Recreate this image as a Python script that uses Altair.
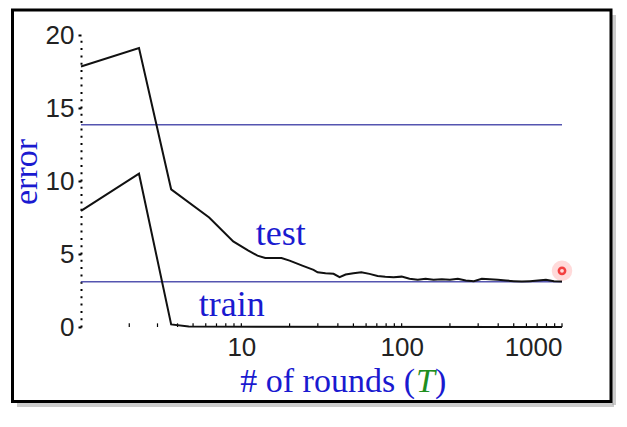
import altair as alt
import pandas as pd

# ---- data ----
test_x = [1, 2.3, 3.65, 6.3, 8.9, 11, 12.6, 14.1, 17.8, 20, 24, 28.2, 29.9, 33.5, 37.6,
          41, 44.7, 50, 56, 63, 70.8, 79, 89, 100, 112, 126, 141, 158, 178, 200, 224,
          251, 282, 316, 355, 398, 447, 501, 562, 631, 708, 794, 891, 1000]
test_y = [17.84, 19.1, 9.43, 7.5, 5.86, 5.25, 4.89, 4.73, 4.73, 4.55, 4.2, 3.91, 3.75, 3.68, 3.64,
          3.41, 3.59, 3.68, 3.75, 3.64, 3.5, 3.45, 3.41, 3.45, 3.3, 3.23, 3.3, 3.23, 3.27, 3.23, 3.3,
          3.18, 3.14, 3.3, 3.27, 3.23, 3.18, 3.14, 3.11, 3.14, 3.18, 3.23, 3.14, 3.11]
train_x = [1, 2.3, 3.65, 4.7, 1000]
train_y = [7.95, 10.5, 0.18, 0.03, 0]
hlines_y = [13.85, 3.1]
x_tick_labels = [10, 100, 1000]
y_tick_labels = [0, 5, 10, 15, 20]
minor_ticks = [2, 3, 4, 5, 6, 7, 8, 9, 10, 20, 30, 40, 50, 60, 70, 80, 90,
               100, 200, 300, 400, 500, 600, 700, 800, 900, 1000]
label_text = ["test", "train"]
label_x = [12.3, 5.43]
label_y = [5.6, 0.75]
marker_x = [1000]
marker_y = [3.85]

BLUE = "#1a1ad0"
W, H = 481, 292

lines_df = pd.DataFrame({
    "x": test_x + train_x,
    "y": test_y + train_y,
    "series": ["test"] * len(test_x) + ["train"] * len(train_x),
})
hl_df = pd.DataFrame({"y": hlines_y})
minor_df = pd.DataFrame({"x": minor_ticks})
lab_df = pd.DataFrame({"x": label_x, "y": label_y, "t": label_text})
mk_df = pd.DataFrame({"x": marker_x, "y": marker_y})
one = pd.DataFrame({"a": [0]})

xscale = alt.Scale(type="log", domain=[1, 1000], nice=False)
yscale = alt.Scale(domain=[0, 20], nice=False)
ax_x = alt.Axis(values=x_tick_labels, format="d", ticks=False, domain=False, grid=False,
                labelFont="Liberation Sans", labelFontSize=26, labelColor="#222222",
                labelPadding=7, title=None)
ax_y = alt.Axis(values=y_tick_labels, tickSize=3, tickWidth=2, tickColor="black",
                domainDash=[2, 5.3], domainWidth=2, domainColor="black", grid=False,
                labelFont="Liberation Sans", labelFontSize=26, labelColor="#222222",
                labelPadding=4, title=None)


def X():
    return alt.X("x:Q", scale=xscale, axis=ax_x)


def Y():
    return alt.Y("y:Q", scale=yscale, axis=ax_y)


shadow_r = alt.Chart(one).mark_rule(color="#aaaaaa", strokeWidth=4, opacity=0.6).encode(
    x=alt.value(W + 52), x2=alt.value(W + 52), y=alt.value(-20), y2=alt.value(H + 78))
shadow_b = alt.Chart(one).mark_rule(color="#aaaaaa", strokeWidth=4, opacity=0.6).encode(
    x=alt.value(-64), x2=alt.value(W + 52), y=alt.value(H + 78), y2=alt.value(H + 78))
frame = alt.Chart(one).mark_rect(fillOpacity=0, stroke="black", strokeWidth=3).encode(
    x=alt.value(-68.5), x2=alt.value(W + 49), y=alt.value(-25), y2=alt.value(H + 74.5))

hl = alt.Chart(hl_df).mark_rule(color="#5555b0", strokeWidth=1.5).encode(y=Y())

minor = alt.Chart(minor_df).mark_rule(color="black", strokeWidth=1.2).encode(
    x=X(), y=alt.datum(0), y2=alt.datum(0.25))

lines = alt.Chart(lines_df).mark_line(color="#111111", strokeWidth=2).encode(
    x=X(), y=Y(), detail="series:N")

labels = alt.Chart(lab_df).mark_text(font="Liberation Serif", fontSize=36, color=BLUE,
                                     align="left", baseline="alphabetic").encode(
    x=X(), y=Y(), text="t:N")

glow = alt.Chart(mk_df).mark_point(filled=True, color="#ff3030", opacity=0.18, size=420).encode(
    x=X(), y=Y())
ring = alt.Chart(mk_df).mark_point(filled=False, color="#ee0000", strokeWidth=2.5, size=40).encode(
    x=X(), y=Y())

ytitle = alt.Chart(one).mark_text(text="error", font="Liberation Serif", fontSize=34, color=BLUE,
                                  angle=270, align="center", baseline="alphabetic").encode(
    x=alt.value(-44), y=alt.value(137))
xt1 = alt.Chart(one).mark_text(text="# of rounds (", font="Liberation Serif", fontSize=34, color=BLUE,
                               align="right", baseline="alphabetic").encode(
    x=alt.value(334), y=alt.value(H + 65))
xt2 = alt.Chart(one).mark_text(text="T", font="Liberation Serif", fontSize=34, color="#1f8f1f",
                               fontStyle="italic", align="left", baseline="alphabetic").encode(
    x=alt.value(335), y=alt.value(H + 65))
xt3 = alt.Chart(one).mark_text(text=")", font="Liberation Serif", fontSize=34, color=BLUE,
                               align="left", baseline="alphabetic").encode(
    x=alt.value(354), y=alt.value(H + 65))

chart = alt.layer(
    shadow_r, shadow_b, frame, hl, minor, lines, labels, glow, ring, ytitle, xt1, xt2, xt3
).properties(
    width=W, height=H,
    padding={"left": 2, "top": 0, "right": 0, "bottom": 0},
    background="white",
).configure_view(strokeWidth=0)

chart.save("out.html", embed_options={"renderer": "svg", "actions": False})
